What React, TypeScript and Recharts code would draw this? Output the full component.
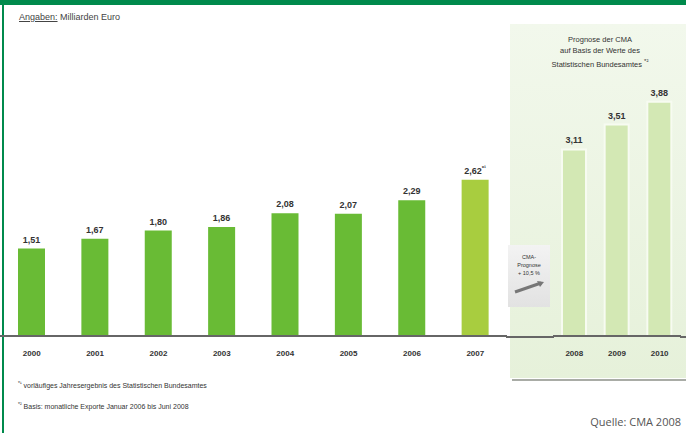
import { BarChart, Bar, XAxis, YAxis, Cell, LabelList } from "recharts";

const years = ["2000", "2001", "2002", "2003", "2004", "2005", "2006", "2007"];
const exports = [1.51, 1.67, 1.8, 1.86, 2.08, 2.07, 2.29, 2.62];
const forecastYears = ["2008", "2009", "2010"];
const forecast = [3.11, 3.51, 3.88];

const histData = years.map((year, i) => ({ year, value: exports[i] }));
const fcData = forecastYears.map((year, i) => ({ year, value: forecast[i] }));

const fmt = (v: number) => v.toFixed(2).replace(".", ",");
const DOMAIN: [number, number] = [0.1, 4.1];
const FONT = "'Liberation Sans', Arial, sans-serif";

// value on top of each bar, 2007 gets the footnote mark
const ValueLabel = (props: any) => {
  const { x, y, width, value, index, mark } = props;
  const cx = x + width / 2;
  return (
    <text x={cx} y={y - 6} textAnchor="middle" fontSize={9} fontWeight={700} fill="#333" fontFamily={FONT}>
      {fmt(value)}
      {mark && index === 7 && (
        <tspan fontSize={6} dy={-4}>*¹</tspan>
      )}
    </text>
  );
};

const tickStyle = { fontSize: 8, fontWeight: 700, fill: "#333", fontFamily: FONT };

export default function App() {
  return (
    <div
      style={{
        position: "absolute",
        left: 0,
        top: 0,
        width: 686,
        height: 433,
        background: "#fff",
        overflow: "hidden",
        fontFamily: FONT,
      }}
    >
      {/* header band and left border */}
      <div style={{ position: "absolute", left: 0, top: 0, width: 686, height: 5, background: "#008a4c" }} />
      <div style={{ position: "absolute", left: 2, top: 0, width: 2, height: 433, background: "#008a4c" }} />

      {/* forecast panel */}
      <div
        style={{
          position: "absolute",
          left: 510,
          top: 24,
          width: 176,
          height: 354,
          background: "linear-gradient(#f2f8ec, #e6f1da)",
        }}
      />
      <div style={{ position: "absolute", left: 512, top: 379, width: 174, height: 2, background: "#a9aca6" }} />

      <div style={{ position: "absolute", left: 19, top: 12, fontSize: 9, color: "#444" }}>
        <span style={{ textDecoration: "underline" }}>Angaben:</span> Milliarden Euro
      </div>

      <div
        style={{
          position: "absolute",
          left: 530,
          top: 34,
          width: 140,
          textAlign: "center",
          fontSize: 7.5,
          lineHeight: "11px",
          color: "#333",
        }}
      >
        Prognose der CMA
        <br />
        auf Basis der Werte des
        <br />
        Statistischen Bundesamtes <sup style={{ fontSize: 6 }}>*²</sup>
      </div>

      <BarChart
        width={507}
        height={433}
        data={histData}
        margin={{ top: 88, right: 0, bottom: 67, left: 0 }}
        style={{ position: "absolute", left: 0, top: 0 }}
      >
        <YAxis hide domain={DOMAIN} allowDataOverflow />
        <XAxis
          dataKey="year"
          height={30}
          axisLine={{ stroke: "#666", strokeWidth: 2 }}
          tickLine={false}
          tick={tickStyle}
          tickMargin={8}
          interval={0}
        />
        <Bar dataKey="value" barSize={27} isAnimationActive={false}>
          {histData.map((d, i) => (
            <Cell key={d.year} fill={i === 7 ? "#a8cd3f" : "#69bb35"} />
          ))}
          <LabelList dataKey="value" content={(p: any) => <ValueLabel {...p} mark />} />
        </Bar>
      </BarChart>

      {/* axis line across the gap */}
      <div style={{ position: "absolute", left: 506, top: 336, width: 48, height: 2, background: "#666" }} />

      <BarChart
        width={128}
        height={433}
        data={fcData}
        margin={{ top: 88, right: 0, bottom: 67, left: 0 }}
        style={{ position: "absolute", left: 553, top: 0 }}
      >
        <YAxis hide domain={DOMAIN} allowDataOverflow />
        <XAxis
          dataKey="year"
          height={30}
          axisLine={{ stroke: "#666", strokeWidth: 2 }}
          tickLine={false}
          tick={tickStyle}
          tickMargin={8}
          interval={0}
        />
        <Bar dataKey="value" barSize={24} fill="#d3e8b4" stroke="#f7fbf1" strokeWidth={2} isAnimationActive={false}>
          <LabelList dataKey="value" content={(p: any) => <ValueLabel {...p} />} />
        </Bar>
      </BarChart>
      <div style={{ position: "absolute", left: 680, top: 336, width: 6, height: 2, background: "#666" }} />

      {/* CMA forecast box */}
      <div
        style={{
          position: "absolute",
          left: 508,
          top: 245,
          width: 42,
          height: 62,
          background: "linear-gradient(#f3f3f3, #e2e2e2)",
          textAlign: "center",
          fontSize: 5.5,
          lineHeight: "8px",
          color: "#333",
          paddingTop: 8,
          boxSizing: "border-box",
        }}
      >
        CMA-
        <br />
        Prognose
        <br />+ 10,5 %
        <svg width={36} height={16} style={{ display: "block", margin: "2px auto 0" }}>
          <line x1={4} y1={13} x2={30} y2={4} stroke="#777" strokeWidth={3} />
          <polygon points="33,3 26,2 29,8" fill="#777" />
        </svg>
      </div>

      <div style={{ position: "absolute", left: 18, top: 380, fontSize: 7, color: "#333" }}>
        <sup style={{ fontSize: 5 }}>*¹</sup> vorläufiges Jahresergebnis des Statistischen Bundesamtes
      </div>
      <div style={{ position: "absolute", left: 18, top: 401, fontSize: 7, color: "#333" }}>
        <sup style={{ fontSize: 5 }}>*²</sup> Basis: monatliche Exporte Januar 2006 bis Juni 2008
      </div>
      <div
        style={{
          position: "absolute",
          right: 5,
          top: 414,
          fontSize: 11,
          color: "#555",
          fontFamily: "'Open Sans', sans-serif",
        }}
      >
        Quelle: CMA 2008
      </div>
    </div>
  );
}
